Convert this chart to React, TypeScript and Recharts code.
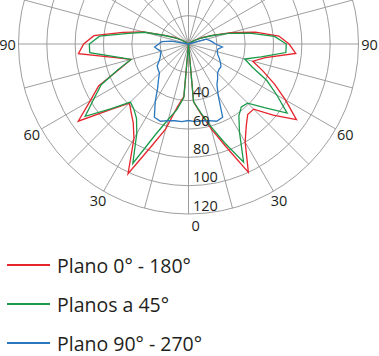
import { Legend, PolarAngleAxis, PolarGrid, PolarRadiusAxis, Radar, RadarChart } from "recharts";

// gamma angle, 0 = straight down, growing to the right, 180 = up, 270 = left 90
const angles = [
  0, 5, 10, 15, 20, 25, 30, 35, 40, 45, 50, 55, 60, 65, 70, 75, 80, 85,
  90, 95, 100, 105, 110, 115, 120, 125, 130, 135, 140, 145, 150, 155, 160, 165, 170, 175,
  180, 185, 190, 195, 200, 205, 210, 215, 220, 225, 230, 235, 240, 245, 250, 255, 260, 265,
  270, 275, 280, 285, 290, 295, 300, 305, 310, 315, 320, 325, 330, 335, 340, 345, 350, 355,
];

const plano0180 = [
  0, 41, 50, 62, 77, 100, 80, 71, 65, 65, 78, 93, 79, 67, 56, 47, 55, 76,
  71, 64, 48, 31, 18, 11, 6, 2, 0, 0, 0, 0, 0, 0, 0, 0, 0, 0,
  0, 0, 0, 0, 0, 0, 0, 0, 0, 0, 0, 2, 6, 11, 18, 33, 47, 67,
  74, 78, 54, 42, 52, 70, 80, 95, 72, 59, 63, 68, 77, 101, 77, 62, 45, 37,
];

const planos45 = [
  0, 41, 49, 60, 74, 92, 72, 62, 58, 59, 70, 85, 72, 61, 48, 41, 52, 69,
  69, 61, 44, 29, 17, 10, 5, 2, 0, 0, 0, 0, 0, 0, 0, 0, 0, 0,
  0, 0, 0, 0, 0, 0, 0, 0, 0, 0, 0, 2, 5, 10, 17, 32, 43, 63,
  70, 70, 52, 42, 53, 68, 77, 89, 71, 58, 60, 64, 73, 93, 68, 55, 47, 38,
];

const plano90270 = [
  54, 55, 55, 56, 58, 57, 42, 35, 32, 29, 28, 28, 26, 24, 22, 21, 21, 24,
  19, 17, 15, 13, 0, 0, 0, 0, 0, 0, 0, 0, 0, 0, 0, 0, 0, 0,
  0, 0, 0, 0, 0, 0, 0, 0, 0, 0, 0, 0, 0, 0, 0, 0, 12, 19,
  21, 24, 22, 20, 21, 22, 24, 27, 28, 29, 33, 38, 47, 57, 58, 56, 55, 55,
];

const seriesNames = ["Plano 0° - 180°", "Planos a 45°", "Plano 90° - 270°"];
const seriesColors = ["#e5242b", "#1b9a4b", "#2a77bd"];

const angleTicks = [0, 15, 30, 45, 60, 75, 90, 105, 120, 135, 150, 165, 180, 195, 210, 225, 240, 255, 270, 285, 300, 315, 330, 345];
const angleLabels: Record<number, string> = { 0: "0", 30: "30", 60: "60", 90: "90", 270: "90", 300: "60", 330: "30" };
const radiusLabels = [40, 60, 80, 100, 120];

const data = angles.map((a, i) => ({
  angle: a,
  p0: plano0180[i],
  p45: planos45[i],
  p90: plano90270[i],
}));

const FONT = "'Open Sans', 'Noto Sans', sans-serif";
const TEXT = "#231f20";

function AngleTick(props: any) {
  const { x, y, payload } = props;
  const label = angleLabels[payload.value];
  if (label === undefined) return null;
  if (payload.value === 0) {
    return (
      <text x={x + 3} y={y} textAnchor="start" dominantBaseline="central" fontSize={14.5} fontFamily={FONT} fill={TEXT}>
        {label}
      </text>
    );
  }
  return (
    <text x={x} y={y} textAnchor="middle" dominantBaseline="central" fontSize={14.5} fontFamily={FONT} fill={TEXT}>
      {label}
    </text>
  );
}

function RadiusTick(props: any) {
  const { x, y, payload } = props;
  if (!radiusLabels.includes(payload.value)) return null;
  return (
    <text x={x + 4.5} y={y - 3.5} textAnchor="start" fontSize={14.5} fontFamily={FONT} fill={TEXT}>
      {payload.value}
    </text>
  );
}

function LegendRows({ payload }: any) {
  const rows = [...(payload ?? [])].sort(
    (a: any, b: any) => seriesNames.indexOf(a.value) - seriesNames.indexOf(b.value)
  );
  return (
    <svg width={240} height={112} style={{ display: "block", overflow: "visible" }}>
      {rows.map((entry: any, i: number) => (
        <g key={entry.value} transform={`translate(0, ${i * 39})`}>
          <line x1={7} x2={50} y1={21} y2={21} stroke={entry.color} strokeWidth={2} />
          <text x={57} y={28.5} fontSize={19.5} fontFamily={FONT} fill={TEXT}>
            {entry.value}
          </text>
        </g>
      ))}
    </svg>
  );
}

export default function App() {
  return (
    <div style={{ position: "absolute", left: 0, top: 0, width: 379, height: 356, background: "#fff" }}>
      <RadarChart
        width={379}
        height={356}
        data={data}
        cx={188.5}
        cy={44}
        outerRadius={170}
        startAngle={-90}
        endAngle={270}
        margin={{ top: 0, right: 0, bottom: 0, left: 0 }}
      >
        <PolarGrid gridType="circle" stroke="#939393" strokeWidth={0.9} />
        <PolarAngleAxis
          dataKey="angle"
          type="number"
          domain={[0, 360]}
          ticks={angleTicks}
          tick={AngleTick}
          tickSize={11}
          axisLine={false}
          tickLine={false}
        />
        <PolarRadiusAxis
          angle={-90}
          domain={[0, 120]}
          tickCount={7}
          tick={RadiusTick}
          axisLine={false}
          tickLine={false}
        />
        <Radar name={seriesNames[0]} dataKey="p0" stroke={seriesColors[0]} strokeWidth={1.3} fill="none" fillOpacity={0} dot={false} isAnimationActive={false} />
        <Radar name={seriesNames[1]} dataKey="p45" stroke={seriesColors[1]} strokeWidth={1.3} fill="none" fillOpacity={0} dot={false} isAnimationActive={false} />
        <Radar name={seriesNames[2]} dataKey="p90" stroke={seriesColors[2]} strokeWidth={1.3} fill="none" fillOpacity={0} dot={false} isAnimationActive={false} />
        <Legend content={LegendRows} wrapperStyle={{ position: "absolute", left: 0, top: 243.5, width: 240 }} />
      </RadarChart>
    </div>
  );
}
